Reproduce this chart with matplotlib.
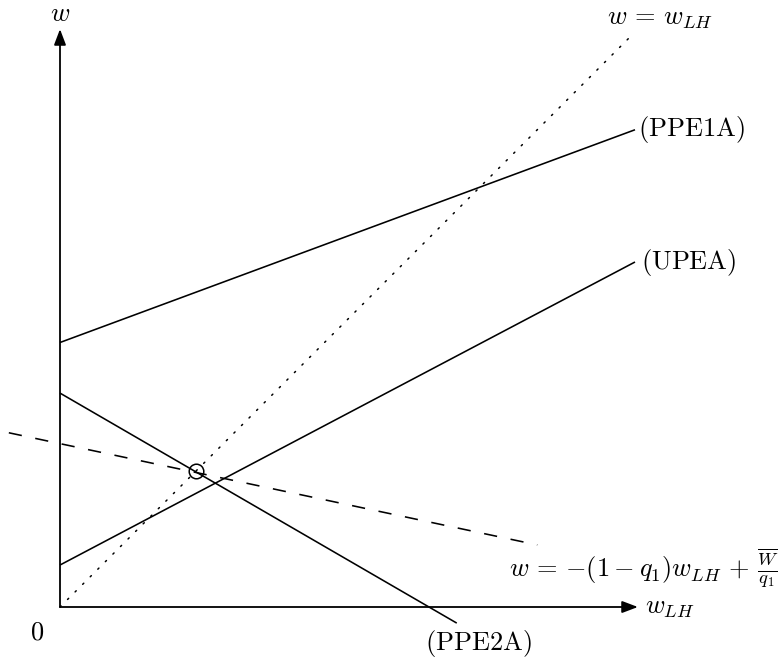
import matplotlib
matplotlib.use("Agg")
import matplotlib.pyplot as plt

plt.rcParams['mathtext.fontset'] = 'cm'
plt.rcParams['font.family'] = ['DejaVu Serif']

# ---- data (diagram units) ----
axis_max = 10.0
diag_x = [0.0, 9.9]
diag_y = [0.0, 9.9]
ppe1a_x = [0.0, 10.0]
ppe1a_y = [4.6, 8.3]
upea_x = [0.0, 10.0]
upea_y = [0.73, 6.0]
ppe2a_x = [0.0, 6.9]
ppe2a_y = [3.72, -0.28]
budget_x = [-0.89, 8.3]
budget_y = [3.03, 1.08]
circle_x = [2.37]
circle_y = [2.37]

FS = 19
u = 57.5  # px per unit
fig = plt.figure(figsize=(7.8, 6.63), dpi=100)
ax = fig.add_axes([0, 0, 1, 1])
ax.set_xlim(-60 / u, 720 / u)
ax.set_ylim(-56 / u, 607 / u)
ax.axis('off')

lw = 1.15
# axes arrows
arrow_kw = dict(arrowstyle='-|>,head_length=0.95,head_width=0.36', lw=1.3,
                color='black', shrinkA=0, shrinkB=0)
ax.annotate('', xy=(axis_max + 0.05, 0), xytext=(0, 0), arrowprops=arrow_kw)
ax.annotate('', xy=(0, axis_max + 0.05), xytext=(0, 0), arrowprops=arrow_kw)

ax.plot(diag_x, diag_y, color='black', lw=1.1, linestyle=(0, (1, 6)),
        dash_capstyle='round')
ax.plot(ppe1a_x, ppe1a_y, color='black', lw=lw, solid_capstyle='butt')
ax.plot(upea_x, upea_y, color='black', lw=lw, solid_capstyle='butt')
ax.plot(ppe2a_x, ppe2a_y, color='black', lw=lw, solid_capstyle='butt')
ax.plot(budget_x, budget_y, color='black', lw=lw, linestyle=(0, (8.3, 8.6)))
ax.plot(circle_x, circle_y, 'o', mfc='none', mec='black', ms=10.5, mew=1.1)

# labels
ax.text(0, 10.33, r'$w$', fontsize=FS, ha='center', va='center')
ax.text(10.43, 10.24, r'$w\,=\,w_{LH}$', fontsize=FS, ha='center', va='center')
ax.text(10.05, 8.3, r'$\mathrm{(PPE1A)}$', fontsize=FS, ha='left', va='center')
ax.text(10.1, 6.0, r'$\mathrm{(UPEA)}$', fontsize=FS, ha='left', va='center')
ax.text(7.27, -0.63, r'$\mathrm{(PPE2A)}$', fontsize=FS, ha='center', va='center')
ax.text(12.5, 0.68, r'$w\,=\,{-}(1-q_1)w_{LH}\,+\,\frac{\overline{W}}{q_1}$',
        fontsize=FS, ha='right', va='center')
ax.text(10.17, 0.0, r'$w_{LH}$', fontsize=FS, ha='left', va='center')
ax.text(-0.4, -0.44, r'$0$', fontsize=FS, ha='center', va='center')

fig.savefig('out.png', dpi=100)
